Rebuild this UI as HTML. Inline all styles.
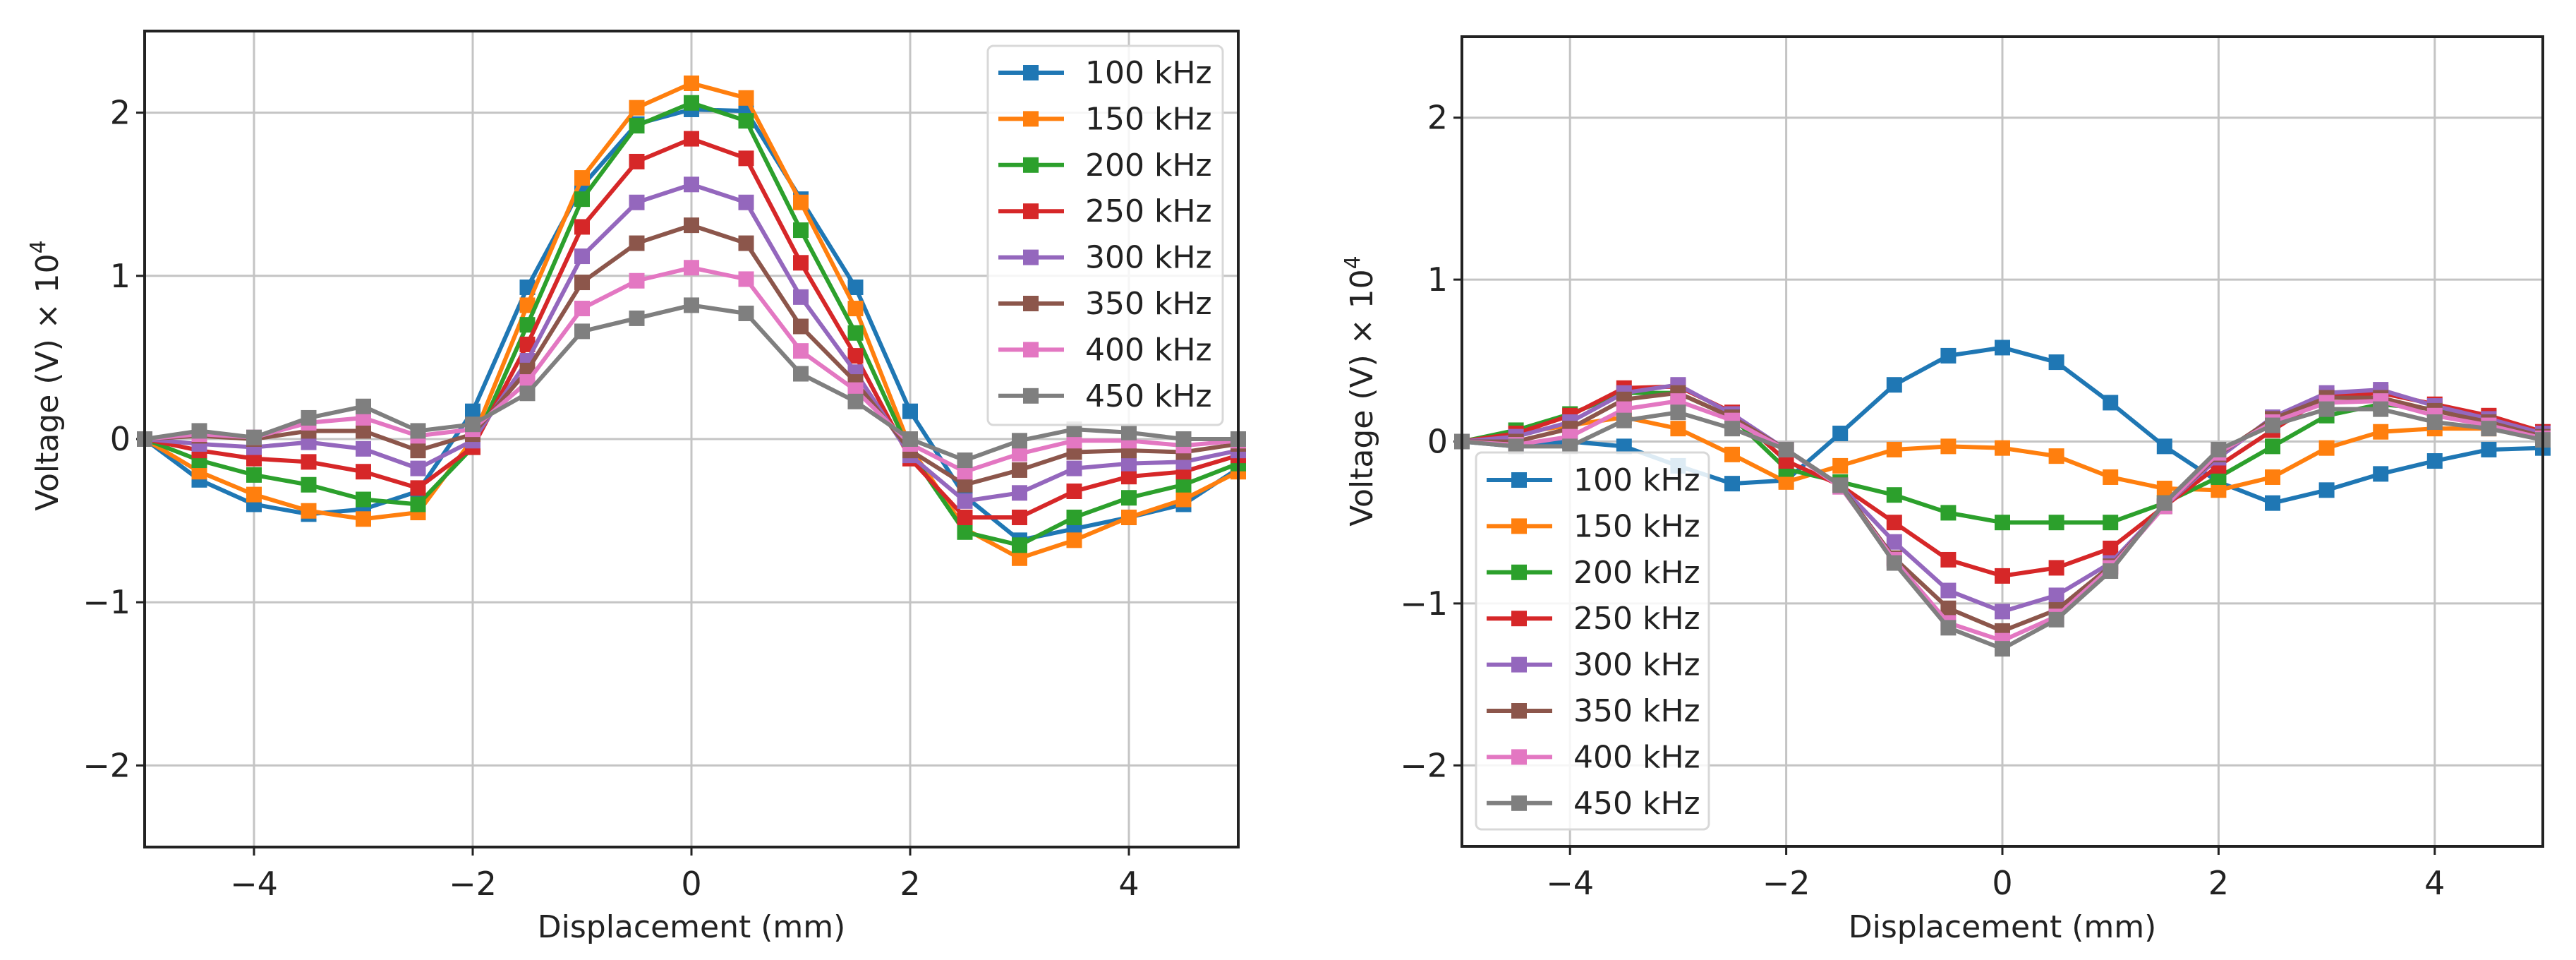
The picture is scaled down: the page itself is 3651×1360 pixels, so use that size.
<!DOCTYPE html>
<html><head><meta charset="utf-8"><style>
html,body{margin:0;padding:0;background:#fff;}
svg{display:block;font-family:"DejaVu Sans","Liberation Sans",sans-serif;}
</style></head><body>
<svg id="fig" width="3651" height="1360" viewBox="0 0 3651 1360" xmlns="http://www.w3.org/2000/svg"></svg>
<script>
const xValues=[-5,-4.5,-4,-3.5,-3,-2.5,-2,-1.5,-1,-0.5,0,0.5,1,1.5,2,2.5,3,3.5,4,4.5,5];
const seriesLabels=["100 kHz","150 kHz","200 kHz","250 kHz","300 kHz","350 kHz","400 kHz","450 kHz"];
const colors=["#1f77b4","#ff7f0e","#2ca02c","#d62728","#9467bd","#8c564b","#e377c2","#7f7f7f"];
const xTicks=[-4,-2,0,2,4];
const yTicks=[-2,-1,0,1,2];
const left100=[0,-0.25,-0.4,-0.46,-0.43,-0.32,0.17,0.93,1.55,1.93,2.02,2.01,1.47,0.93,0.17,-0.35,-0.62,-0.55,-0.48,-0.4,-0.18];
const left150=[0,-0.2,-0.34,-0.44,-0.49,-0.45,0.0,0.82,1.6,2.03,2.18,2.09,1.45,0.8,-0.05,-0.55,-0.73,-0.62,-0.48,-0.37,-0.2];
const left200=[0,-0.13,-0.22,-0.28,-0.37,-0.4,-0.05,0.7,1.47,1.92,2.06,1.95,1.28,0.65,-0.08,-0.57,-0.65,-0.48,-0.36,-0.28,-0.15];
const left250=[0,-0.07,-0.12,-0.14,-0.2,-0.3,-0.05,0.58,1.3,1.7,1.84,1.72,1.08,0.51,-0.12,-0.48,-0.48,-0.32,-0.23,-0.2,-0.1];
const left300=[0,-0.03,-0.05,-0.02,-0.06,-0.18,-0.01,0.48,1.12,1.45,1.56,1.45,0.87,0.41,-0.1,-0.38,-0.33,-0.18,-0.15,-0.14,-0.07];
const left350=[0,0.02,0.0,0.05,0.05,-0.07,0.03,0.42,0.96,1.2,1.31,1.2,0.69,0.35,-0.07,-0.28,-0.19,-0.08,-0.07,-0.08,-0.03];
const left400=[0,0.03,0.01,0.1,0.13,0.02,0.06,0.35,0.8,0.97,1.05,0.98,0.54,0.3,-0.03,-0.2,-0.09,-0.01,-0.01,-0.04,-0.01];
const left450=[0,0.05,0.01,0.13,0.2,0.05,0.09,0.28,0.66,0.74,0.82,0.77,0.4,0.23,0.0,-0.13,-0.01,0.06,0.04,0.0,0.0];
const right100=[0,-0.03,0.0,-0.03,-0.15,-0.26,-0.24,0.05,0.35,0.53,0.58,0.49,0.24,-0.03,-0.25,-0.38,-0.3,-0.2,-0.12,-0.05,-0.04];
const right150=[0,0.05,0.1,0.15,0.08,-0.08,-0.25,-0.15,-0.05,-0.03,-0.04,-0.09,-0.22,-0.29,-0.3,-0.22,-0.04,0.06,0.08,0.08,0.05];
const right200=[0,0.07,0.17,0.3,0.3,0.15,-0.17,-0.25,-0.33,-0.44,-0.5,-0.5,-0.5,-0.38,-0.22,-0.03,0.16,0.23,0.2,0.15,0.05];
const right250=[0,0.05,0.16,0.33,0.34,0.18,-0.12,-0.27,-0.5,-0.73,-0.83,-0.78,-0.66,-0.4,-0.15,0.07,0.28,0.3,0.23,0.16,0.06];
const right300=[0,0.03,0.12,0.3,0.35,0.17,-0.05,-0.27,-0.62,-0.92,-1.05,-0.95,-0.75,-0.4,-0.1,0.15,0.3,0.32,0.22,0.14,0.05];
const right350=[0,0.0,0.08,0.26,0.3,0.15,-0.05,-0.27,-0.72,-1.03,-1.17,-1.04,-0.77,-0.4,-0.08,0.14,0.27,0.27,0.19,0.12,0.03];
const right400=[0,-0.02,0.03,0.2,0.25,0.13,-0.05,-0.28,-0.73,-1.12,-1.23,-1.08,-0.78,-0.4,-0.07,0.12,0.24,0.25,0.16,0.1,0.02];
const right450=[0,-0.03,-0.03,0.13,0.18,0.08,-0.05,-0.27,-0.75,-1.15,-1.28,-1.1,-0.8,-0.38,-0.05,0.1,0.2,0.2,0.12,0.08,0.01];
const leftSeries=[left100,left150,left200,left250,left300,left350,left400,left450];
const rightSeries=[right100,right150,right200,right250,right300,right350,right400,right450];

const NS="http://www.w3.org/2000/svg";
const svg=document.getElementById('fig');
function mk(tag,attrs,parent){const e=document.createElementNS(NS,tag);for(const k in attrs)e.setAttribute(k,attrs[k]);(parent||svg).appendChild(e);return e;}

function drawPanel(p){
  const g=mk('g',{});
  
  
  const sx=v=>p.x0+(v+5)/10*(p.x1-p.x0);
  const sy=v=>p.y0+(2.5-v)/5*(p.y1-p.y0);
  for(const t of xTicks){
    const l=mk('line',{x1:sx(t),x2:sx(t),y1:p.y0,y2:p.y1,stroke:'#c4c4c4','stroke-width':3},g);
    
    
    mk('line',{x1:sx(t),x2:sx(t),y1:p.y1,y2:p.y1+12,stroke:'#222','stroke-width':3},g);
    const tx=mk('text',{x:sx(t),y:p.y1+68,'font-size':46,'text-anchor':'middle',fill:'#222'},g);
    tx.textContent=(t<0?'\u2212':'')+Math.abs(t);
    
    
  }
  for(const t of yTicks){
    const l=mk('line',{x1:p.x0,x2:p.x1,y1:sy(t),y2:sy(t),stroke:'#c4c4c4','stroke-width':3},g);
    
    
    mk('line',{x1:p.x0-12,x2:p.x0,y1:sy(t),y2:sy(t),stroke:'#222','stroke-width':3},g);
    const tx=mk('text',{x:p.x0-20,y:sy(t)+16,'font-size':46,'text-anchor':'end',fill:'#222'},g);
    tx.textContent=(t<0?'\u2212':'')+Math.abs(t);
    
    
  }
  p.series.forEach((s,i)=>{
    const pts=s.map((v,j)=>sx(xValues[j])+','+sy(v)).join(' ');
    const pl=mk('polyline',{points:pts,fill:'none',stroke:colors[i],'stroke-width':6,'stroke-linejoin':'round'},g);
    
    
    s.forEach((v,j)=>{
      const r=mk('rect',{x:sx(xValues[j])-11,y:sy(v)-11,width:22,height:22,fill:colors[i]},g);
      
      
    });
  });
  const fr=mk('rect',{x:p.x0,y:p.y0,width:p.x1-p.x0,height:p.y1-p.y0,fill:'none',stroke:'#222','stroke-width':4},g);
  
  
  const xl=mk('text',{x:(p.x0+p.x1)/2,y:1328,'font-size':44,'text-anchor':'middle',fill:'#222'},g);
  xl.textContent='Displacement (mm)';
  
  
  const yl=mk('text',{x:0,y:0,'font-size':44,'text-anchor':'middle',fill:'#222',transform:'translate('+p.ylx+','+p.yly+') rotate(-90)'},g);
  yl.textContent=p.ylab;
  
  
  const sup=mk('tspan',{'font-size':30,dy:-18},yl); sup.textContent='4';
  const lg=mk('g',{},g);
  
  
  mk('rect',{x:p.lx,y:p.ly,width:p.lw,height:p.lh,rx:8,fill:'#fff','fill-opacity':0.85,stroke:'#d8d8d8','stroke-width':3},lg);
  seriesLabels.forEach((lab,i)=>{
    const yy=p.ly0+i*65.4;
    const e=mk('g',{},lg);
    
    
    mk('line',{x1:p.lx+15,x2:p.lx+108,y1:yy,y2:yy,stroke:colors[i],'stroke-width':6},e);
    mk('rect',{x:p.lx+50,y:yy-11,width:22,height:22,fill:colors[i]},e);
    const t=mk('text',{x:p.lx+138,y:yy+15,'font-size':44,fill:'#222'},e);
    t.textContent=lab;
  });
}
drawPanel({name:'left-chart',x0:205,x1:1755,y0:44,y1:1200,series:leftSeries,ylx:82,yly:532,ylab:'Voltage (V)    \u00d7 10',lx:1400,ly:65,lw:333,lh:537,ly0:103});
drawPanel({name:'right-chart',x0:2072,x1:3604,y0:52,y1:1199,series:rightSeries,ylx:1945,yly:554,ylab:'Voltage (V) \u00d7 10',lx:2092,ly:641,lw:330,lh:534,ly0:680});
</script>
</body></html>
